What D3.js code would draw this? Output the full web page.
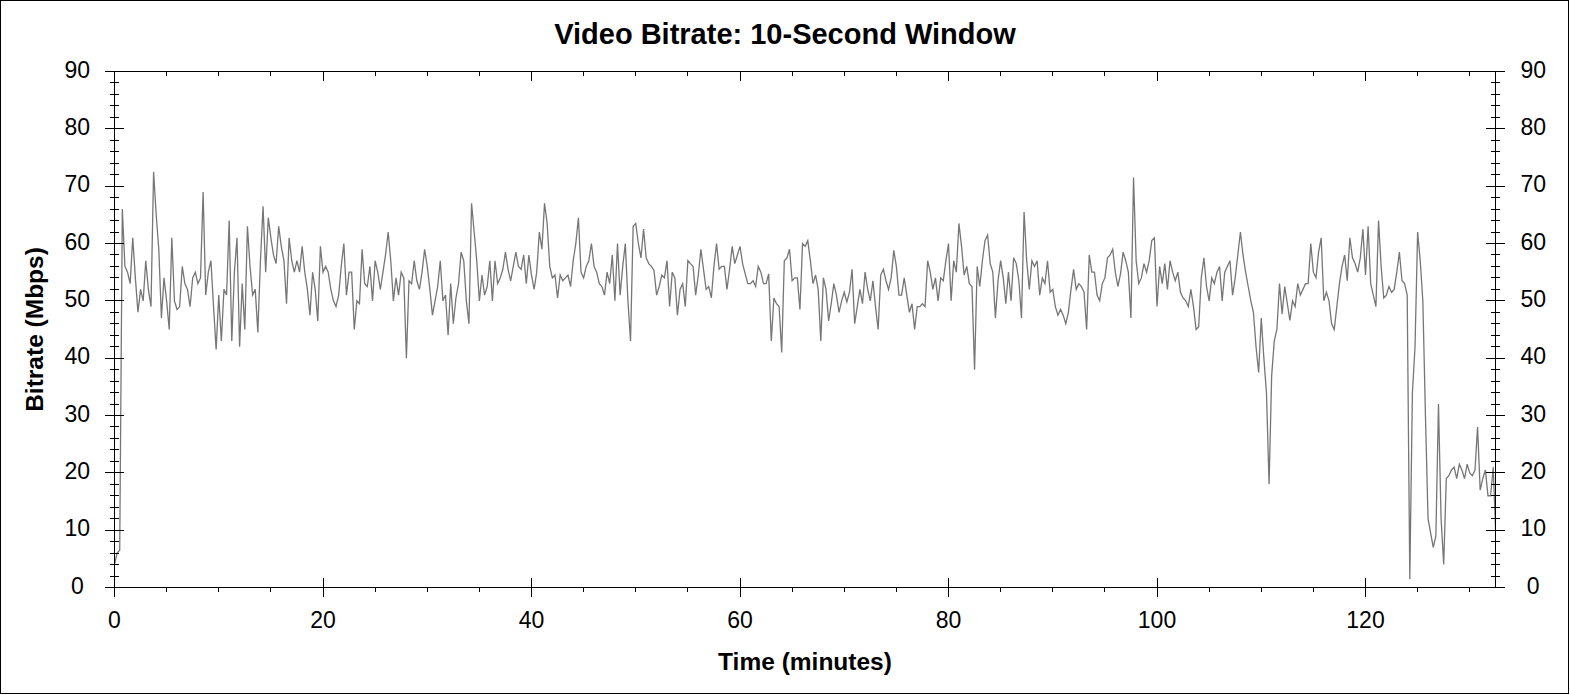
<!DOCTYPE html>
<html>
<head>
<meta charset="utf-8">
<script src="https://cdn.jsdelivr.net/npm/d3@7"></script>
<style>
html,body{margin:0;padding:0;background:#fff;}
svg{display:block;}
</style>
</head>
<body>
<svg id="chart" width="1570" height="695"></svg>
<script>
// ---------- text ----------
const chartTitle = "Video Bitrate: 10-Second Window";
const xAxisTitle = "Time (minutes)";
const yAxisTitle = "Bitrate (Mbps)";

// ---------- data (Mbps, one reading every 0.25 minute) ----------
const sampleStepMinutes = 0.25;
const bitrate0to22 = [
  4, 6, 6.5, 66,
  56, 55, 53, 61,
  54, 48, 52, 50,
  57, 52, 49, 72.5,
  65, 59, 47, 54,
  50, 45, 61, 50,
  48.5, 49, 56, 53,
  52, 49, 54, 55,
  53, 54, 69, 51,
  55, 57, 49, 41.5,
  51, 43, 52, 51,
  64, 43, 55, 61,
  42, 53, 45, 63,
  56, 51, 52, 44.5,
  57, 66.5, 55, 64.5,
  61, 58, 56.5, 63,
  59.5, 57, 49.5, 61,
  57, 55, 57, 55,
  59.5, 55, 52, 47.5,
  55, 52, 46.5, 59.5,
  55, 56, 55, 52,
  50, 49, 51, 56,
  60, 51, 55
];
const bitrate23to44 = [
  55,
  45, 50, 49.5, 59,
  53, 52.5, 56, 50,
  57, 55, 52, 55,
  58, 62, 57, 50,
  54, 51, 55, 54,
  40, 53.5, 53, 57,
  53.5, 52, 55, 59,
  56, 52, 47.5, 50,
  52.5, 57, 50, 51,
  44, 53, 46, 50.5,
  53, 58.5, 57, 50,
  46, 67, 62, 57,
  50, 54.5, 51, 52.5,
  57, 50, 57, 53,
  54, 55.5, 58.5, 55.5,
  53.5, 56, 58.5, 56,
  55.5, 58, 53, 58,
  54.5, 52, 55, 62,
  59, 67, 63.5, 56,
  54, 54.5, 50.5, 54.5,
  53.5, 54, 54.5, 52.5,
  57, 60, 64.5
];
const bitrate45to66 = [
  55,
  54, 56, 57, 60,
  56, 55, 53, 52.5,
  51, 55, 53, 58,
  50, 60, 51, 56,
  60, 50, 43, 63,
  63.5, 60, 57.5, 62.5,
  57.5, 56.5, 56, 55.3,
  51, 52.5, 54.5, 54,
  57, 49, 55, 54,
  47.5, 52, 53, 49,
  57, 56.5, 56, 51,
  54.5, 59, 55.5, 52,
  52.5, 50.5, 56, 60,
  55.5, 56, 56, 52,
  55.5, 59.5, 56.5, 58,
  59.5, 56.5, 54.7, 53,
  53, 53.5, 52.5, 56,
  55, 53, 53, 54.7,
  43, 50.5, 49.5, 49,
  41, 57, 57.5, 59,
  53.5, 54, 54, 48.5,
  60, 59.5, 60.5
];
const bitrate67to88 = [
  57,
  53, 54.5, 52, 43,
  54, 52, 46.5, 49.5,
  53, 51, 48, 50,
  51.5, 49.8, 51.5, 55.5,
  46, 49, 52, 49.5,
  55, 52, 50, 53.5,
  49, 45, 54.5, 55.5,
  53.5, 52, 54, 58.8,
  56, 51, 51, 54,
  51, 48, 49.5, 45,
  49, 49, 49.5, 49,
  57, 55, 52, 54,
  50, 54, 53.5, 57,
  60, 50, 57, 55,
  63.5, 59.5, 54.5, 56,
  53, 52.5, 38, 56,
  52.5, 57, 60.5, 61.5,
  56.5, 55, 47, 53.5,
  57, 54, 49.5, 55,
  50, 57.5, 56.5, 53.5,
  47, 65.5, 57, 52,
  57, 56, 57, 51
];
const bitrate89to110 = [
  54, 53, 57, 51.5,
  52, 49, 47.5, 48.5,
  47.5, 46, 48, 52,
  55.5, 52, 53, 52.5,
  51.5, 45, 58, 55,
  55, 51, 50, 53,
  54, 57.5, 58, 59,
  55, 52.5, 54.7, 58.5,
  57, 55, 47, 71.5,
  57, 53, 54, 56.5,
  55, 57, 60.5, 61,
  49, 56, 53, 56.5,
  52, 57, 55, 53.5,
  55, 51.5, 50.5, 50,
  49, 52, 49, 45,
  45.5, 54, 57.5, 52.5,
  50, 54, 53, 55,
  56, 50, 55, 56,
  57, 51, 54, 58,
  62, 58, 55, 52.5,
  50, 48, 42, 37.5,
  47, 40, 34
];
const bitrate111to132 = [
  18,
  37, 43, 45, 53,
  47.7, 52.5, 49.5, 46.6,
  50, 49, 53, 51,
  52, 53, 53, 60,
  55, 54, 58.5, 61,
  50, 51.5, 50, 46,
  45, 49, 53, 56,
  58, 53.5, 61, 57.5,
  56.5, 55, 57.5, 62.5,
  54.5, 63, 53, 51,
  49, 64, 56, 50.5,
  51, 52.5, 51.5, 52,
  55, 58.5, 53.5, 53,
  51, 1.5, 34, 42,
  62, 57, 50, 30,
  12, 9.5, 7, 9,
  32, 12, 4, 19,
  19.5, 20.5, 21, 19,
  21.5, 20.5, 19, 21.5,
  20, 19.5, 20.5, 28,
  17, 19, 20.5, 16,
  16, 21, 9
];
const bitrate = [].concat(bitrate0to22, bitrate23to44, bitrate45to66,
                          bitrate67to88, bitrate89to110, bitrate111to132);

// ---------- ticks ----------
const xMajorTicks = [0, 20, 40, 60, 80, 100, 120];
const xMinorTicks = [5, 10, 15, 25, 30, 35, 45, 50, 55, 65, 70, 75, 85, 90, 95, 105, 110, 115, 125, 130];
const yMajorTicks = [0, 10, 20, 30, 40, 50, 60, 70, 80, 90];
const yMinorTicks = [2,4,6,8,12,14,16,18,22,24,26,28,32,34,36,38,42,44,46,48,52,54,56,58,62,64,66,68,72,74,76,78,82,84,86,88];

// ---------- layout ----------
const W = 1570, H = 695;
const plot = {left: 114, right: 1495, top: 71, bottom: 587};
const xMax = 132.47;
const FONT = "'Liberation Sans', Arial, Helvetica, sans-serif";

const svg = d3.select("#chart");

const x = d3.scaleLinear().domain([0, xMax]).range([plot.left, plot.right]);
const y = d3.scaleLinear().domain([0, 90]).range([plot.bottom, plot.top]);

// outer border
svg.append("rect")
  .attr("x", 0.5).attr("y", 0.5).attr("width", W - 2).attr("height", H - 2)
  .attr("fill", "#fff").attr("stroke", "#000").attr("stroke-width", 1);

// clip
svg.append("defs").append("clipPath").attr("id", "plotClip")
  .append("rect")
  .attr("x", plot.left + 0.5).attr("y", plot.top + 0.5)
  .attr("width", plot.right - plot.left).attr("height", plot.bottom - plot.top);

// data line
const line = d3.line()
  .x((d, i) => x(i * sampleStepMinutes) + 0.5)
  .y(d => y(d) + 0.5);

svg.append("path")
  .datum(bitrate)
  .attr("clip-path", "url(#plotClip)")
  .attr("fill", "none")
  .attr("stroke", "#767676")
  .attr("stroke-width", 1.3)
  .attr("stroke-linejoin", "miter")
  .attr("d", line);

// frame
svg.append("rect")
  .attr("x", plot.left + 0.5).attr("y", plot.top + 0.5)
  .attr("width", plot.right - plot.left).attr("height", plot.bottom - plot.top)
  .attr("fill", "none").attr("stroke", "#000").attr("stroke-width", 1);

function styleAxis(g) {
  g.attr("font-family", FONT).attr("font-size", 23).attr("color", "#000");
  g.select(".domain").remove();
  g.selectAll(".tick line").attr("stroke", "#000").attr("shape-rendering", "crispEdges");
  g.selectAll(".tick text").attr("fill", "#000");
}

// left axis major
svg.append("g")
  .attr("transform", `translate(${plot.left + 0.5},0)`)
  .call(d3.axisLeft(y).tickValues(yMajorTicks).tickSizeInner(9.5).tickSizeOuter(0))
  .call(styleAxis)
  .call(g => g.selectAll(".tick line").attr("x1", 9.5))
  .call(g => g.selectAll(".tick text").attr("x", -37.2).attr("dy", "6").attr("text-anchor", "middle"));
// left axis minor
svg.append("g")
  .attr("transform", `translate(${plot.left + 0.5},0)`)
  .call(d3.axisLeft(y).tickValues(yMinorTicks).tickSizeInner(4.7).tickSizeOuter(0).tickFormat(""))
  .call(styleAxis)
  .call(g => g.selectAll(".tick line").attr("x1", 4.7));

// right axis major
svg.append("g")
  .attr("transform", `translate(${plot.right + 0.5},0)`)
  .call(d3.axisRight(y).tickValues(yMajorTicks).tickSizeInner(9.5).tickSizeOuter(0))
  .call(styleAxis)
  .call(g => g.selectAll(".tick line").attr("x1", -9.5))
  .call(g => g.selectAll(".tick text").attr("x", 37.7).attr("dy", "6").attr("text-anchor", "middle"));
// right axis minor
svg.append("g")
  .attr("transform", `translate(${plot.right + 0.5},0)`)
  .call(d3.axisRight(y).tickValues(yMinorTicks).tickSizeInner(4.7).tickSizeOuter(0).tickFormat(""))
  .call(styleAxis)
  .call(g => g.selectAll(".tick line").attr("x1", -4.7));

// bottom axis major
svg.append("g")
  .attr("transform", `translate(0,${plot.bottom + 0.5})`)
  .call(d3.axisBottom(x).tickValues(xMajorTicks).tickSizeInner(9.5).tickSizeOuter(0))
  .call(styleAxis)
  .call(g => g.selectAll(".tick line").attr("y1", -9.5))
  .call(g => g.selectAll(".tick text").attr("y", 40.5).attr("dy", null));
// bottom axis minor (outside)
svg.append("g")
  .attr("transform", `translate(0,${plot.bottom + 0.5})`)
  .call(d3.axisBottom(x).tickValues(xMinorTicks).tickSizeInner(4).tickSizeOuter(0).tickFormat(""))
  .call(styleAxis);

// top axis (ticks inside)
svg.append("g")
  .attr("transform", `translate(0,${plot.top + 0.5})`)
  .call(d3.axisBottom(x).tickValues(xMajorTicks).tickSizeInner(9.5).tickSizeOuter(0).tickFormat(""))
  .call(styleAxis);
svg.append("g")
  .attr("transform", `translate(0,${plot.top + 0.5})`)
  .call(d3.axisBottom(x).tickValues(xMinorTicks).tickSizeInner(4).tickSizeOuter(0).tickFormat(""))
  .call(styleAxis);

// titles
svg.append("text")
  .attr("x", 785).attr("y", 44.3)
  .attr("text-anchor", "middle")
  .attr("font-family", FONT).attr("font-weight", "bold").attr("font-size", 29)
  .attr("fill", "#000")
  .text(chartTitle);

svg.append("text")
  .attr("x", (plot.left + plot.right) / 2 + 0.5).attr("y", 670)
  .attr("text-anchor", "middle")
  .attr("font-family", FONT).attr("font-weight", "bold").attr("font-size", 24.5)
  .attr("fill", "#000")
  .text(xAxisTitle);

svg.append("text")
  .attr("transform", `translate(42.7,${(plot.top + plot.bottom) / 2 + 0.5}) rotate(-90)`)
  .attr("text-anchor", "middle")
  .attr("font-family", FONT).attr("font-weight", "bold").attr("font-size", 24.5)
  .attr("fill", "#000")
  .text(yAxisTitle);
</script>
</body>
</html>
